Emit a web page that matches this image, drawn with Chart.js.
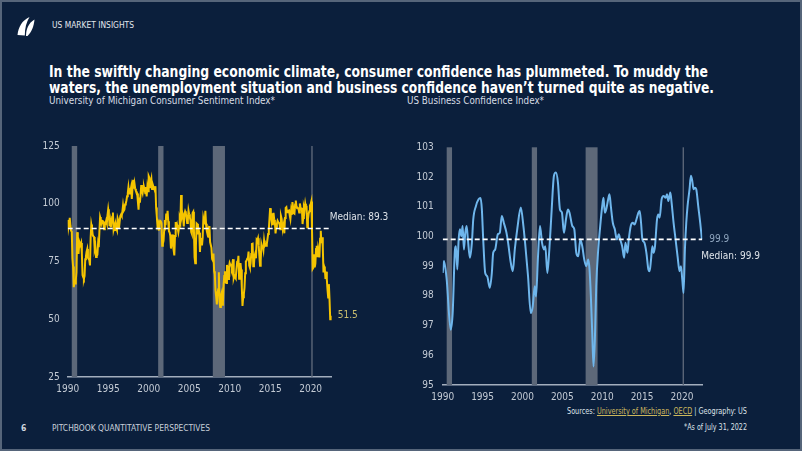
<!DOCTYPE html>
<html>
<head>
<meta charset="utf-8">
<script src="https://cdn.jsdelivr.net/npm/chart.js@4.4.1/dist/chart.umd.min.js"></script>
<style>
  html, body { margin:0; padding:0; background:#0b1f3c; }
  #page { position:relative; width:802px; height:451px; background:#0b1f3c; overflow:hidden;
          box-shadow: inset 0 0 0 2px #56657a; font-family:"Liberation Sans Narrow","DejaVu Sans Condensed",Roboto,"Liberation Sans",sans-serif; }
  .t { position:absolute; white-space:nowrap; transform-origin:left center; }
  canvas { position:absolute; }
  a.l { color:#cbb75c; text-decoration:underline; }
</style>
</head>
<body>
<div id="page">
  <svg style="position:absolute;left:16px;top:16px" width="20" height="21" viewBox="0 0 20 21">
    <path d="M1.5 19 C2.5 11 6 4.5 13.5 1 C10.5 6 8.8 12 8.8 19.5 Z" fill="#ffffff"/>
    <path d="M10 20 C10 13 12.5 7 18.5 3.5 C17.8 10 16 15.5 11.5 20 Z" fill="#ffffff"/>
  </svg>
  <div class="t" data-w="82" style="left:52px;top:21px;font-size:8.5px;line-height:9px;color:#e4e8ee;">US MARKET INSIGHTS</div>
  <div class="t" data-w="659" style="left:49px;top:63px;font-size:16.5px;line-height:18px;font-weight:bold;color:#ffffff;">In the swiftly changing economic climate, consumer confidence has plummeted. To muddy the</div>
  <div class="t" data-w="665" style="left:49px;top:79px;font-size:16.5px;line-height:18px;font-weight:bold;color:#ffffff;">waters, the unemployment situation and business confidence haven’t turned quite as negative.</div>
  <div class="t" data-w="226" style="left:49px;top:95px;font-size:10px;line-height:12px;color:#d6dbe3;">University of Michigan Consumer Sentiment Index*</div>
  <div class="t" data-w="137" style="left:407px;top:95px;font-size:10px;line-height:12px;color:#d6dbe3;">US Business Confidence Index*</div>
  <div class="t" data-w="180" style="left:567px;top:407px;font-size:8px;line-height:10px;color:#dfe3e9;">Sources: <a class="l">University of Michigan</a>, <a class="l">OECD</a> | Geography: US</div>
  <div class="t" style="left:21px;top:423px;font-size:8.5px;line-height:10px;font-weight:bold;color:#d0d6de;">6</div>
  <div class="t" data-w="158" style="left:52px;top:423px;font-size:8.5px;line-height:10px;color:#c9d0da;">PITCHBOOK QUANTITATIVE PERSPECTIVES</div>
  <div class="t" data-w="63" style="left:684px;top:423px;font-size:8px;line-height:10px;color:#dfe3e9;">*As of July 31, 2022</div>
  <canvas id="c1" width="360" height="275" style="left:40px;top:130px;width:360px;height:275px;"></canvas>
  <canvas id="c2" width="402" height="280" style="left:400px;top:130px;width:402px;height:280px;"></canvas>
</div>
<script>
// ---------------- DATA ----------------
const yearTicks = [1990, 1995, 2000, 2005, 2010, 2015, 2020];
const umichTicks = [25, 50, 75, 100, 125];
const bciTicks = [95, 96, 97, 98, 99, 100, 101, 102, 103];

const recessionStart = [1990.5, 2001.17, 2007.92, 2020.08];
const recessionEnd   = [1991.17, 2001.83, 2009.42, 2020.25];

const umichMedian = 89.3;
const bciMedian = 99.9;
const umichLast = 51.5;
const bciLast = 99.9;

// University of Michigan Consumer Sentiment, monthly from Jan 1990 to Jul 2022
const umichStartYear = 1990;
const umichSentiment = [
  93.0, 89.5, 91.3, 93.9, 90.6, 88.3, 88.2, 76.4, 72.8, 63.9, 66.0, 65.5,
  66.8, 70.4, 87.7, 81.8, 78.3, 82.1, 82.9, 82.0, 83.0, 78.3, 69.1, 68.2,
  67.5, 68.8, 76.0, 77.2, 79.2, 80.4, 76.6, 76.1, 75.6, 73.3, 85.3, 91.0,
  89.3, 86.6, 85.9, 85.6, 80.3, 81.5, 77.0, 77.3, 77.9, 82.7, 81.2, 88.2,
  94.3, 93.2, 91.5, 92.6, 92.8, 91.2, 89.0, 91.7, 91.5, 92.7, 91.6, 95.1,
  97.6, 95.1, 90.3, 92.5, 89.8, 92.7, 94.4, 96.2, 88.9, 90.2, 88.2, 91.0,
  89.3, 88.5, 93.7, 92.7, 89.4, 92.4, 94.7, 95.3, 94.7, 96.5, 99.2, 96.9,
  97.4, 99.7, 100.0, 101.4, 103.2, 104.5, 107.1, 104.4, 106.0, 105.6, 107.2, 102.1,
  106.6, 110.4, 106.5, 108.7, 106.5, 105.6, 105.2, 104.4, 100.9, 97.4, 102.7, 100.5,
  103.9, 108.1, 105.7, 104.6, 106.8, 107.3, 106.0, 104.5, 107.2, 103.2, 107.2, 105.4,
  112.0, 111.3, 107.1, 109.2, 110.7, 106.4, 108.3, 107.3, 106.8, 105.8, 107.6, 98.4,
  94.7, 90.6, 91.5, 88.4, 92.0, 92.6, 92.4, 91.5, 81.8, 82.7, 83.9, 88.8,
  93.0, 90.7, 95.7, 93.0, 96.9, 92.4, 88.1, 87.6, 86.1, 80.6, 84.2, 86.7,
  82.4, 79.9, 77.6, 86.0, 92.1, 89.7, 90.9, 89.3, 87.7, 89.6, 93.7, 92.6,
  103.8, 94.4, 95.8, 94.2, 90.2, 95.6, 96.7, 95.9, 94.2, 91.7, 92.8, 97.1,
  95.5, 94.1, 92.6, 87.7, 86.9, 96.0, 96.5, 89.1, 76.9, 74.2, 81.6, 91.5,
  91.2, 86.7, 88.9, 87.4, 79.1, 84.9, 84.7, 82.0, 85.4, 93.6, 92.1, 91.7,
  96.9, 91.3, 88.4, 87.1, 88.3, 85.3, 90.4, 83.4, 83.4, 80.9, 76.1, 75.5,
  78.4, 70.8, 69.5, 62.6, 59.8, 56.4, 61.2, 63.0, 70.3, 57.6, 55.3, 60.1,
  61.2, 56.3, 57.3, 65.1, 68.7, 70.8, 66.0, 65.7, 73.5, 70.6, 67.4, 72.5,
  74.4, 73.6, 73.6, 72.2, 73.6, 76.0, 67.8, 68.9, 68.2, 67.7, 71.6, 74.5,
  74.2, 77.5, 67.5, 69.8, 74.3, 71.5, 63.7, 55.8, 59.5, 60.8, 63.7, 69.9,
  75.0, 75.3, 76.2, 76.4, 79.3, 73.2, 72.3, 74.3, 78.3, 82.6, 82.7, 72.9,
  73.8, 77.6, 78.6, 76.4, 84.5, 84.1, 85.1, 82.1, 77.5, 73.2, 75.1, 82.5,
  81.2, 81.6, 80.0, 84.1, 81.9, 82.5, 81.8, 82.5, 84.6, 86.9, 88.8, 93.6,
  98.1, 95.4, 93.0, 95.9, 90.7, 96.1, 93.1, 91.9, 87.2, 90.0, 91.3, 92.6,
  92.0, 91.7, 91.0, 89.0, 94.7, 93.5, 90.0, 89.8, 91.2, 87.2, 93.8, 98.2,
  98.5, 96.3, 96.9, 97.0, 97.1, 95.0, 93.4, 96.8, 95.1, 100.7, 98.5, 95.9,
  95.7, 99.7, 101.4, 98.8, 98.0, 98.2, 97.9, 96.2, 100.1, 98.6, 97.5, 98.3,
  91.2, 93.8, 98.4, 97.2, 100.0, 98.2, 98.4, 89.8, 93.2, 95.5, 96.8, 99.3,
  99.8, 101.0, 89.1, 71.8, 72.3, 78.1, 72.5, 74.1, 80.4, 81.8, 76.9, 80.7,
  79.0, 76.8, 84.9, 88.3, 82.9, 85.5, 81.2, 70.3, 72.8, 71.7, 67.4, 70.6,
  67.2, 62.8, 59.4, 65.2, 58.4, 50.0, 51.5
];
const umichDates = umichSentiment.map((_, i) => umichStartYear + i / 12);

// OECD US Business Confidence Index (decimal year, value)
const bciDates = [
  1990.0, 1990.16, 1990.5, 1991.0, 1991.25, 1991.54, 1991.66, 1991.83, 1992.0, 1992.16,
  1992.33, 1992.5, 1992.66, 1992.83, 1993.0, 1993.16, 1993.41, 1993.66, 1993.83, 1994.16,
  1994.5, 1994.75, 1994.91, 1995.08, 1995.33, 1995.58, 1995.91, 1996.16, 1996.33, 1996.58,
  1996.91, 1997.16, 1997.41, 1997.66, 1998.0, 1998.2, 1998.54, 1998.79, 1999.04, 1999.37,
  1999.79, 2000.12, 2000.37, 2000.7, 2001.04, 2001.29, 2001.54, 2001.7, 2001.95, 2002.2,
  2002.45, 2002.7, 2002.87, 2003.12, 2003.37, 2003.62, 2003.95, 2004.2, 2004.45, 2004.7,
  2004.95, 2005.2, 2005.45, 2005.7, 2005.9, 2006.25, 2006.5, 2006.75, 2007.0, 2007.25,
  2007.5, 2007.75, 2008.0, 2008.25, 2008.41, 2008.58, 2008.75, 2008.91, 2009.08, 2009.25,
  2009.5, 2009.75, 2010.0, 2010.16, 2010.33, 2010.5, 2010.75, 2010.91, 2011.08, 2011.33,
  2011.58, 2011.83, 2012.08, 2012.25, 2012.5, 2012.75, 2012.91, 2013.16, 2013.33, 2013.58,
  2013.83, 2014.06, 2014.29, 2014.54, 2014.7, 2014.87, 2015.04, 2015.29, 2015.54, 2015.79,
  2015.95, 2016.12, 2016.29, 2016.45, 2016.62, 2016.87, 2017.04, 2017.2, 2017.45, 2017.7,
  2017.95, 2018.12, 2018.29, 2018.54, 2018.7, 2018.95, 2019.2, 2019.45, 2019.7, 2019.87,
  2020.04, 2020.2, 2020.37, 2020.54, 2020.7, 2020.95, 2021.12, 2021.29, 2021.45, 2021.62,
  2021.79, 2022.04, 2022.29, 2022.5
];
const bciValues = [
  98.77, 99.17, 98.55, 96.86, 97.42, 99.56, 99.67, 98.89, 99.9, 100.24,
  100.01, 100.35, 99.56, 100.12, 100.35, 99.9, 99.28, 99.79, 100.57, 101.02,
  101.25, 101.29, 100.91, 99.9, 98.77, 98.66, 98.27, 98.77, 99.45, 99.56,
  100.07, 100.12, 100.69, 100.46, 100.12, 99.79, 99.11, 98.83, 99.56, 100.29,
  100.97, 100.35, 99.67, 98.66, 97.42, 97.65, 98.32, 97.98, 99.33, 100.35,
  99.79, 99.56, 99.67, 98.77, 99.56, 100.69, 102.04, 102.15, 101.81, 100.91,
  100.8, 100.12, 100.57, 100.91, 100.8, 100.35, 100.24, 99.45, 99.33, 99.9,
  99.67, 99.22, 99.0, 99.22, 98.89, 97.98, 96.75, 95.62, 96.52, 98.32,
  99.56, 100.35, 101.02, 101.3, 100.8, 100.91, 101.25, 101.42, 101.02, 100.46,
  100.24, 99.9, 100.07, 99.9, 99.67, 99.28, 99.79, 99.45, 99.9, 100.35,
  100.46, 100.4, 100.57, 100.8, 100.86, 100.46, 99.9, 99.79, 99.45, 98.89,
  98.83, 99.22, 99.67, 99.45, 99.67, 100.57, 100.74, 100.63, 101.25, 101.36,
  101.3, 101.42, 101.19, 101.48, 101.14, 100.46, 99.9, 99.33, 98.83, 99.0,
  98.55, 98.1, 99.56, 100.46, 101.02, 101.59, 102.04, 101.87, 101.59, 101.64,
  101.59, 101.02, 100.46, 99.9
];

// ---------------- RENDER ----------------
const FONT = '"Liberation Sans Narrow","DejaVu Sans Condensed",Roboto,"Liberation Sans",sans-serif';

// fit header/footer texts to the measured widths of the reference
document.querySelectorAll('.t[data-w]').forEach(el => {
  const w = el.getBoundingClientRect().width;
  const target = parseFloat(el.dataset.w);
  if (w > 0) el.style.transform = 'scaleX(' + (target / w) + ')';
});

const bandsPlugin = {
  id: 'bands',
  beforeDatasetsDraw(chart, args, opts) {
    const { ctx, chartArea, scales } = chart;
    ctx.save();
    ctx.fillStyle = opts.color;
    recessionStart.forEach((s, i) => {
      const x0 = scales.x.getPixelForValue(s);
      const x1 = scales.x.getPixelForValue(recessionEnd[i]);
      ctx.fillRect(x0, chartArea.top, Math.max(1, x1 - x0), chartArea.bottom - chartArea.top);
    });
    ctx.restore();
  },
  afterDatasetsDraw(chart, args, opts) {
    const { ctx, scales } = chart;
    ctx.save();
    ctx.textBaseline = 'middle';
    ctx.textAlign = 'left';
    (opts.labels || []).forEach(l => {
      ctx.font = '10px ' + FONT;
      ctx.fillStyle = l.color;
      ctx.fillText(l.text, scales.x.getPixelForValue(l.x) + l.dx, scales.y.getPixelForValue(l.y) + l.dy);
    });
    ctx.restore();
  }
};

function makeChart(id, cfg) {
  return new Chart(document.getElementById(id), {
    type: 'line',
    data: {
      datasets: [
        {
          data: cfg.dates.map((d, i) => ({ x: d, y: cfg.values[i] })),
          borderColor: cfg.color, borderWidth: 2, pointRadius: 0,
          tension: cfg.tension, cubicInterpolationMode: cfg.mode, order: 2
        },
        {
          data: [{ x: cfg.xmin, y: cfg.median }, { x: cfg.xmax, y: cfg.median }],
          borderColor: '#ffffff', borderWidth: 1.6, borderDash: [5, 3], pointRadius: 0, order: 1
        }
      ]
    },
    options: {
      responsive: false, animation: false, devicePixelRatio: 1,
      layout: { padding: cfg.padding },
      plugins: {
        legend: { display: false }, tooltip: { enabled: false },
        bands: { color: '#5d6879', labels: cfg.labels }
      },
      scales: {
        x: {
          type: 'linear', min: cfg.xmin, max: cfg.xmax,
          grid: { display: false, drawTicks: false },
          border: { display: true, color: '#a3aebd', width: 1.5 },
          afterBuildTicks: s => { s.ticks = yearTicks.map(v => ({ value: v })); },
          afterFit: s => { s.height = 20; },
          ticks: { color: '#c3cad4', font: { family: FONT, size: 10 }, padding: 6, maxRotation: 0,
                   callback: v => String(v) }
        },
        y: {
          min: cfg.ymin, max: cfg.ymax,
          grid: { display: false, drawTicks: false },
          border: { display: false },
          afterBuildTicks: s => { s.ticks = cfg.yticks.map(v => ({ value: v })); },
          afterFit: s => { s.width = cfg.yw; },
          ticks: { color: '#c3cad4', font: { family: FONT, size: 10 }, padding: cfg.ypad,
                   callback: v => String(v) }
        }
      }
    },
    plugins: [bandsPlugin]
  });
}

makeChart('c1', {
  dates: umichDates, values: umichSentiment, color: '#f5c400', tension: 0, mode: 'default',
  median: umichMedian, xmin: 1990, xmax: 2022.6, ymin: 25, ymax: 125, yticks: umichTicks,
  yw: 27.7, ypad: 8, padding: { top: 16, left: 0, right: 68.3, bottom: 8 },
  labels: [
    { text: 'Median: ' + umichMedian, x: 2022.6, y: umichMedian, dx: -2, dy: -11, color: '#dde2e8' },
    { text: String(umichLast), x: 2022.6, y: umichLast, dx: 6, dy: 0, color: '#c8bc6e' }
  ]
});

makeChart('c2', {
  dates: bciDates, values: bciValues, color: '#6fb6ec', tension: 0.4, mode: 'monotone',
  median: bciMedian, xmin: 1990, xmax: 2022.55, ymin: 95, ymax: 103, yticks: bciTicks,
  yw: 42.7, ypad: 9, padding: { top: 17.3, left: 0, right: 99.7, bottom: 5 },
  labels: [
    { text: String(bciLast), x: 2022.55, y: bciLast, dx: 7, dy: 0, color: '#8ea4bd' },
    { text: 'Median: ' + bciMedian, x: 2022.55, y: bciMedian, dx: -1, dy: 17, color: '#dde2e8' }
  ]
});
</script>
</body>
</html>
